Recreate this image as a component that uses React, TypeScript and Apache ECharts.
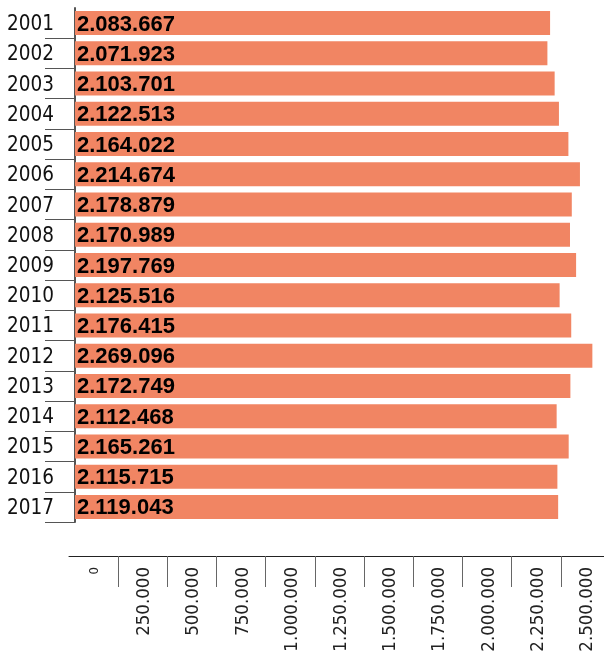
import React, { useEffect, useRef } from "react";
import * as echarts from "echarts";

const years = [
  "2001", "2002", "2003", "2004", "2005", "2006", "2007", "2008", "2009",
  "2010", "2011", "2012", "2013", "2014", "2015", "2016", "2017",
];
const values = [
  2083667, 2071923, 2103701, 2122513, 2164022, 2214674, 2178879, 2170989,
  2197769, 2125516, 2176415, 2269096, 2172749, 2112468, 2165261, 2115715,
  2119043,
];
const tickLabels = [
  "0", "250.000", "500.000", "750.000", "1.000.000", "1.250.000",
  "1.500.000", "1.750.000", "2.000.000", "2.250.000", "2.500.000",
];

const fmt = (v: number) =>
  String(v).replace(/\B(?=(\d{3})+(?!\d))/g, ".");

const condensed = "'DejaVu Sans Condensed', 'Liberation Sans'";

export default function App() {
  const ref = useRef<HTMLDivElement>(null);
  useEffect(() => {
    if (!ref.current) return;
    const chart = echarts.init(ref.current, undefined, { renderer: "svg" });
    chart.setOption({
      animation: false,
      textStyle: { fontFamily: "Liberation Sans" },
      grid: [
        { left: 75, top: 8, width: 525, height: 514, outerBoundsMode: "none", containLabel: false },
        { left: 69, top: 540, width: 541, height: 16, outerBoundsMode: "none", containLabel: false },
      ],
      xAxis: [
        { type: "value", gridIndex: 0, min: 0, max: 2302600, show: false },
        {
          type: "category",
          gridIndex: 1,
          position: "bottom",
          data: tickLabels,
          boundaryGap: true,
          axisLine: { onZero: false, lineStyle: { color: "#222", width: 1 } },
          axisTick: {
            show: true,
            length: 31,
            interval: (i: number) => i !== 0,
            lineStyle: { color: "#666", width: 1 },
          },
          axisLabel: {
            interval: 0,
            rotate: 90,
            margin: 11,
            fontSize: 18.5,
            color: "#222",
            fontFamily: condensed,
            formatter: (v: string) => (v === "0" ? "{s|0}" : v),
            rich: {
              s: { fontSize: 13, color: "#222", fontFamily: condensed },
            },
          },
          splitLine: { show: false },
        },
      ],
      yAxis: [
        {
          type: "category",
          gridIndex: 0,
          inverse: true,
          data: years,
          offset: 6,
          axisLine: { show: true, lineStyle: { color: "#555", width: 2 } },
          axisTick: {
            show: true,
            length: 30,
            interval: (i: number) => i !== 0,
            lineStyle: { color: "#555", width: 1 },
          },
          axisLabel: {
            margin: 15,
            fontSize: 20.5,
            color: "#111",
            fontFamily: condensed,
          },
        },
        { type: "value", gridIndex: 1, min: 0, max: 1, show: false },
      ],
      series: [
        {
          type: "bar",
          xAxisIndex: 0,
          yAxisIndex: 0,
          data: values,
          barWidth: 24,
          itemStyle: { color: "#F18563" },
          label: {
            show: true,
            position: "insideLeft",
            distance: 2,
            formatter: (p: any) => fmt(p.value),
            fontSize: 22,
            fontWeight: "bold",
            color: "#000",
            fontFamily: "Liberation Sans",
          },
        },
      ],
    });
    return () => chart.dispose();
  }, []);
  return (
    <div
      ref={ref}
      style={{ position: "fixed", left: 0, top: 0, width: 604, height: 655 }}
    />
  );
}
